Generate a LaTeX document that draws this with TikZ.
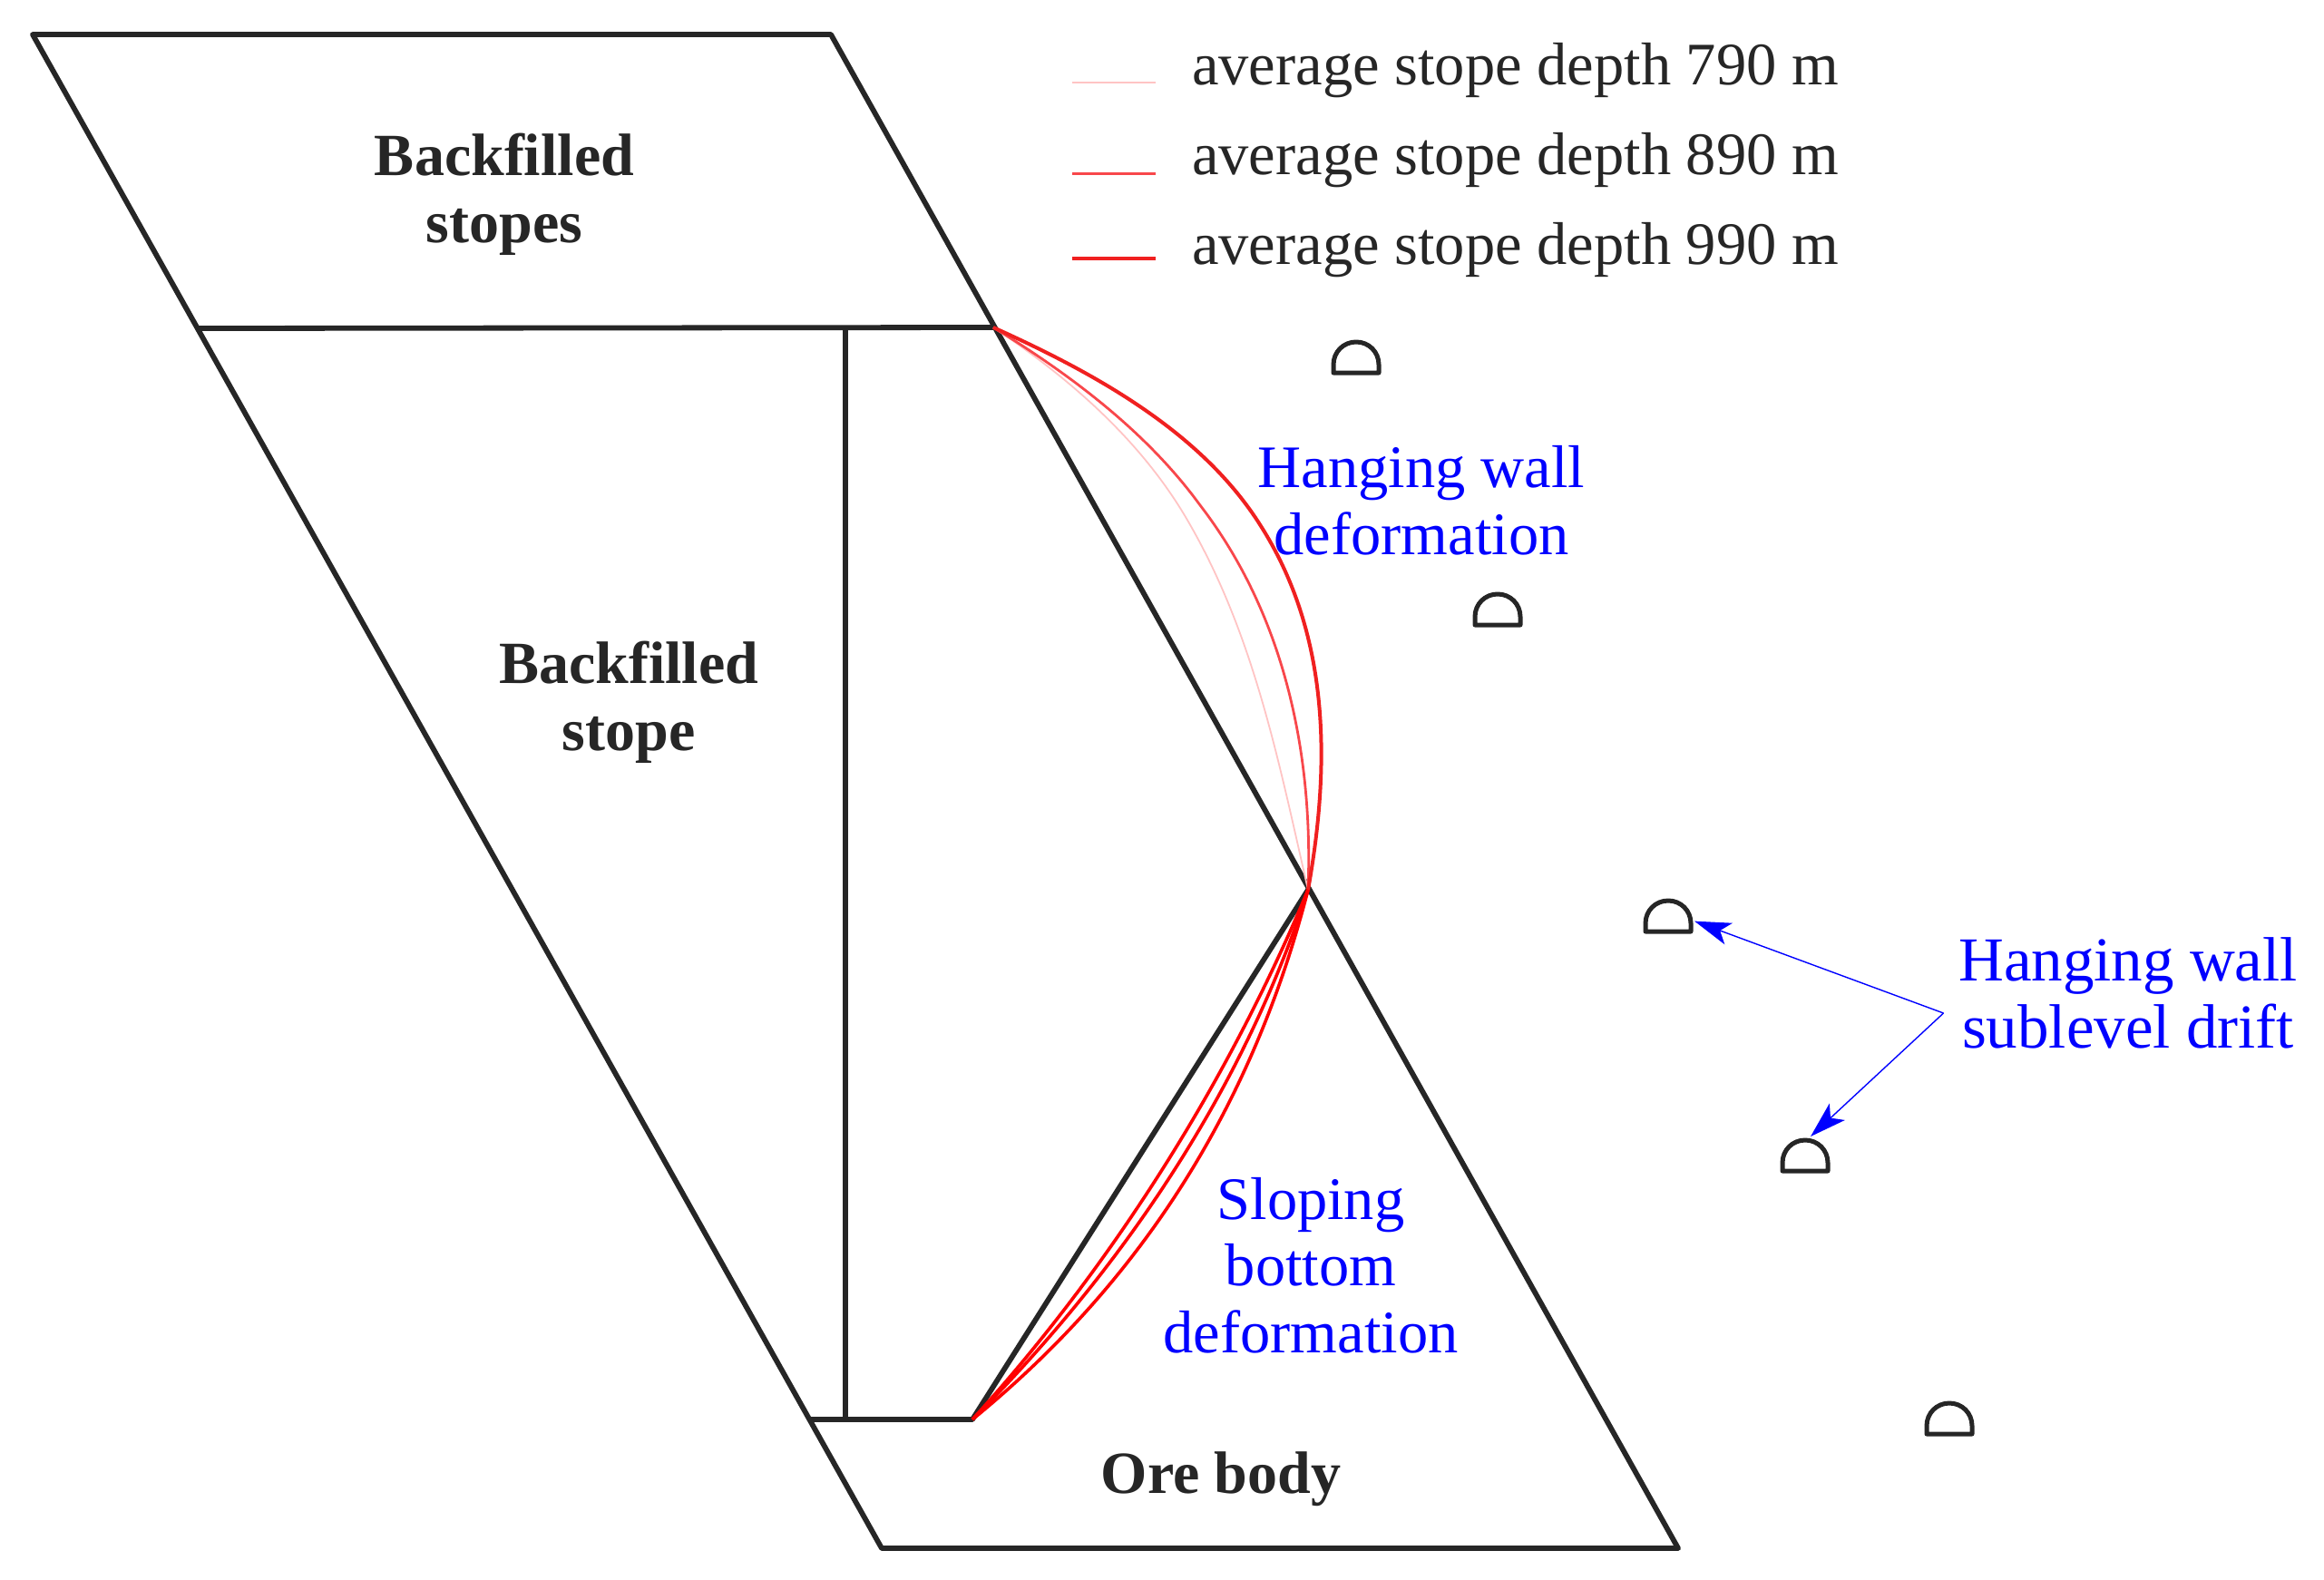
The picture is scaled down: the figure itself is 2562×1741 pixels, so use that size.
\documentclass[tikz,border=0pt]{standalone}
\usepackage{fontspec}
\setmainfont{Liberation Serif}
\usetikzlibrary{arrows.meta}
\definecolor{ink}{HTML}{262626}
\definecolor{bluetxt}{HTML}{0000FF}
\definecolor{redA}{HTML}{FFC4C4}
\definecolor{redB}{HTML}{F8474B}
\definecolor{redC}{HTML}{F02020}
\tikzset{
 wall/.style={draw=ink,line width=5.8pt,line join=round,line cap=round},
 drift/.style={draw=ink,line width=5pt,line join=round},
 curveA/.style={draw=redA,line width=1.8pt},
 curveB/.style={draw=redB,line width=2.8pt},
 curveC/.style={draw=redC,line width=4pt},
 curveL/.style={draw=red,line width=3.6pt},
 legtxt/.style={anchor=base west,text=ink,font=\fontsize{66.5}{70}\selectfont,inner sep=0pt},
 boldtxt/.style={anchor=base,align=center,text=ink,inner sep=0pt,font=\fontsize{66}{73.5}\selectfont\bfseries},
 bluelab/.style={anchor=base,align=center,text=bluetxt,inner sep=0pt,font=\fontsize{66.5}{73.5}\selectfont},
 pointer/.style={draw=bluetxt,line width=1.4pt,-{Stealth[length=40pt,width=25pt,inset=10pt,fill=bluetxt]}},
}
\newcommand{\driftarch}[3]{%
 \coordinate (#1) at (#2,#3);
 \draw[drift] (#2-25,#3) -- (#2+25,#3) -- (#2+25,#3-9)
   .. controls (#2+25,#3-23) and (#2+14,#3-34) .. (#2,#3-34)
   .. controls (#2-14,#3-34) and (#2-25,#3-23) .. (#2-25,#3-9) -- cycle;}
\begin{document}
\begin{tikzpicture}[x=1pt,y=-1pt]
\useasboundingbox (0,0) rectangle (2562,1741);
\coordinate (tl) at (36,38);
\coordinate (tr) at (916,38);
\coordinate (br) at (1850,1707);
\coordinate (bl) at (972,1707);
\coordinate (ml) at (219,362);
\coordinate (mr) at (1095,361);
\coordinate (kink) at (1442,981);
\coordinate (sl) at (893,1565);
\coordinate (sr) at (1072,1565);
\coordinate (vt) at (932,362);
\coordinate (vb) at (932,1565);
\draw[wall] (tl) -- (tr) -- (br) -- (bl) -- cycle;
\draw[wall] (ml) -- (mr);
\draw[wall] (sl) -- (sr) -- (kink);
\draw[wall] (vt) -- (vb);
% hanging wall deformation
\draw[curveA] (mr) .. controls (1178,416) and (1256,484) .. (1307,570) .. controls (1382,697) and (1409,837) .. (kink);
\draw[curveB] (mr) .. controls (1180,413) and (1264,476) .. (1323,557) .. controls (1416,678) and (1448,831) .. (kink);
\draw[curveC] (mr) .. controls (1206,411) and (1325,476) .. (1390,580) .. controls (1466,700) and (1467,842) .. (kink);
% sloping bottom deformation
\draw[curveL] (sr) .. controls (1228,1393) and (1355,1190) .. (kink);
\draw[curveL] (sr) .. controls (1238,1399) and (1372,1199) .. (kink);
\draw[curveL] (sr) .. controls (1262,1410) and (1382,1215) .. (kink);
% legend
\coordinate (la1) at (1182,91); \coordinate (la2) at (1274,91);
\coordinate (lb1) at (1182,191.5); \coordinate (lb2) at (1274,191.5);
\coordinate (lc1) at (1182,284.5); \coordinate (lc2) at (1274,284.5);
\draw[curveA] (la1) -- (la2);
\draw[curveB] (lb1) -- (lb2);
\draw[curveC] (lc1) -- (lc2);
\node[legtxt] (lega) at (1314,93) {average stope depth 790 m};
\node[legtxt] (legb) at (1314,192.5) {average stope depth 890 m};
\node[legtxt] (legc) at (1314,291) {average stope depth 990 m};
% labels
\node[boldtxt] (stopes) at (556,267) {Backfilled\\stopes};
\node[boldtxt] (stope) at (693,827) {Backfilled\\stope};
\node[boldtxt] (ore) at (1346,1646) {Ore body};
\node[bluelab] (hwd) at (1567,611) {Hanging wall\\deformation};
\node[bluelab] (sbd) at (1445,1491) {Sloping\\bottom\\deformation};
\node[bluelab,font=\fontsize{69}{73.5}\selectfont] (hsd) at (2346,1155) {Hanging wall\\sublevel drift};
% drifts
\driftarch{d1}{1495}{411}
\driftarch{d2}{1651}{689}
\driftarch{d3}{1839}{1027}
\driftarch{d4}{1990}{1291}
\driftarch{d5}{2149}{1581}
\coordinate (fork) at (2142.5,1117);
\coordinate (tipa) at (1868,1015.6);
\coordinate (tipb) at (1996,1253);
\draw[pointer] (fork) -- (tipa);
\draw[pointer] (fork) -- (tipb);
\end{tikzpicture}
\end{document}
